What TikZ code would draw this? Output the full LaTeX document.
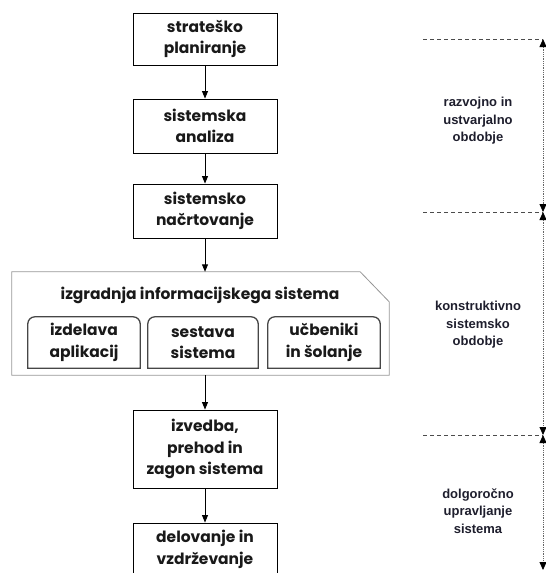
\documentclass[tikz,border=0pt]{standalone}
\usepackage{fontspec}
\setmainfont{Liberation Sans}
\newfontfamily\boxfont{Poppins}
\usetikzlibrary{arrows.meta,calc}

\definecolor{labelink}{RGB}{30,30,45}
\definecolor{framegray}{RGB}{150,150,150}
\definecolor{innergray}{RGB}{70,70,70}

% outline with rounded top corners and square bottom corners
\newcommand\toproundbox[1]{%
  \draw[innerline] (#1.south west) -- ([yshift=-7pt]#1.north west)
    arc[start angle=180,end angle=90,radius=7pt]
    -- ([xshift=-7pt]#1.north east)
    arc[start angle=90,end angle=0,radius=7pt]
    -- (#1.south east) -- cycle;}

\begin{document}
\begin{tikzpicture}[x=1pt,y=-1pt,
  boxtext/.style={font=\boxfont\bfseries\fontsize{15.5}{21.5}\selectfont,text=black!90,align=center},
  stagebox/.style={boxtext,draw=black,line width=0.9pt,inner sep=0pt,minimum width=144pt},
  innerbox/.style={boxtext,draw=none,inner sep=0pt,minimum height=51pt},
  innerline/.style={draw=innergray,line width=1.3pt},
  contline/.style={draw=framegray,line width=0.8pt},
  flow/.style={draw=black,line width=0.9pt,-{Triangle[length=7.5pt,width=6pt]}},
  periodlabel/.style={font=\bfseries\fontsize{13}{17.5}\selectfont,text=labelink,align=center},
  periodline/.style={draw=black!70,line width=0.9pt,dash pattern=on 4pt off 3pt},
  spanarrow/.style={draw=black!60,line width=0.8pt,densely dotted,
    {Triangle[length=8pt,width=7pt,color=black,fill=black]}-{Triangle[length=8pt,width=7pt,color=black,fill=black]}}
]
\useasboundingbox (0,0) rectangle (546,573);

% main sequence of stages
\node[stagebox,minimum height=52pt] (b1) at (205,39) {strateško\\planiranje};
\node[stagebox,minimum height=54pt] (b2) at (205,126) {sistemska\\analiza};
\node[stagebox,minimum height=54pt] (b3) at (205,211) {sistemsko\\načrtovanje};

% construction group
\node[draw=none,inner sep=0pt,minimum width=377pt,minimum height=103pt] (cont) at (200.5,323.5) {};
\draw[contline] (cont.south west) -- (cont.north west) -- ([xshift=-29pt]cont.north east)
  -- ([yshift=-30pt]cont.north east) -- (cont.south east) -- cycle;
\node[boxtext] (ctitle) at (200,295) {izgradnja informacijskega sistema};
\node[innerbox,minimum width=112pt] (ia) at (84,342.5) {izdelava\\aplikacij};
\node[innerbox,minimum width=110pt] (ib) at (203,342.5) {sestava\\sistema};
\node[innerbox,minimum width=112pt] (ic) at (324,342.5) {učbeniki\\in šolanje};
\toproundbox{ia}
\toproundbox{ib}
\toproundbox{ic}

\node[stagebox,minimum height=78pt] (b4) at (205,449) {izvedba,\\prehod in\\zagon sistema};
\node[stagebox,minimum height=53pt] (b5) at (205,549.5) {delovanje in\\vzdrževanje};

% connectors
\draw[flow] (b1) -- (b2);
\draw[flow] (b2) -- (b3);
\draw[flow] (b3.south) -- (b3.south |- cont.north);
\draw[flow] (b3.south |- cont.south) -- (b4.north);
\draw[flow] (b4) -- (b5);

% periods on the right
\coordinate (m1) at (543,39);
\coordinate (m2) at (543,212);
\coordinate (m3) at (543,435);
\coordinate (m4) at (543,570);
\coordinate (d1) at (423,39);
\coordinate (d2) at (423,212);
\coordinate (d3) at (423,435);
\draw[periodline] (d1) -- (m1);
\draw[periodline] (d2) -- (m2);
\draw[periodline] (d3) -- (m3);
\draw[spanarrow] (m1) -- (m2);
\draw[spanarrow] (m2) -- (m3);
\draw[spanarrow] (m3) -- (m4);

\node[periodlabel] (p1) at (478,121) {razvojno in\\ustvarjalno\\obdobje};
\node[periodlabel] (p2) at (478,325) {konstruktivno\\sistemsko\\obdobje};
\node[periodlabel] (p3) at (478,511) {dolgoročno\\upravljanje\\sistema};
\end{tikzpicture}
\end{document}
